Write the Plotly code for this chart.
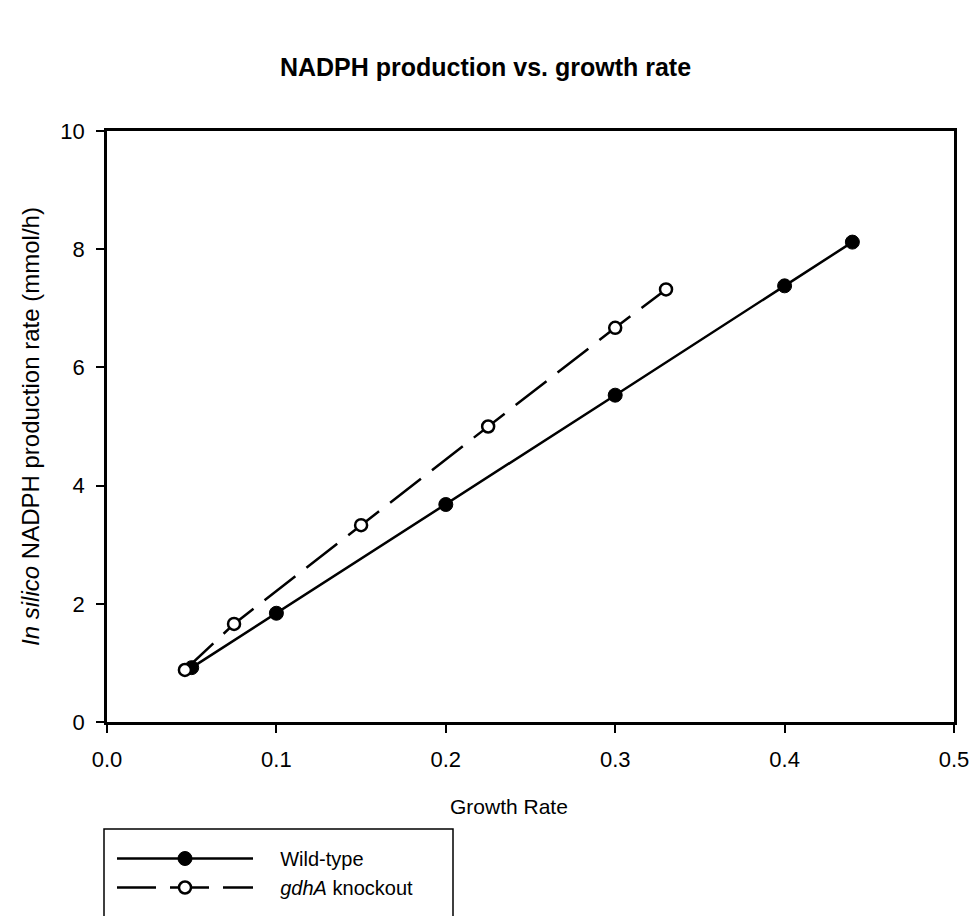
import plotly.graph_objects as go

# Growth rate (1/h) and in silico NADPH production rate (mmol/h)
growth_wt = [0.05, 0.1, 0.2, 0.3, 0.4, 0.44]
nadph_wt = [0.92, 1.84, 3.68, 5.53, 7.38, 8.12]

growth_ko = [0.046, 0.075, 0.15, 0.225, 0.3, 0.33]
nadph_ko = [0.88, 1.66, 3.33, 5.0, 6.67, 7.32]

x_ticks = [0.0, 0.1, 0.2, 0.3, 0.4, 0.5]
x_tick_text = ["0.0", "0.1", "0.2", "0.3", "0.4", "0.5"]
y_ticks = [0, 2, 4, 6, 8, 10]

FONT = "Liberation Sans, Arial, Helvetica, sans-serif"
W, H = 971, 916
L, R, T, B = 107, 17, 131, 194
plot_h = H - T - B

NBSP = "\u00a0"


def py(px):
    """Pixel row -> paper y coordinate."""
    return (H - B - px) / plot_h


def px_(p):
    """Pixel column -> paper x coordinate."""
    return (p - L) / (W - L - R)


fig = go.Figure()

fig.add_trace(go.Scatter(
    x=growth_wt, y=nadph_wt, mode="lines+markers",
    name=NBSP * 4 + "Wild-type",
    line=dict(color="black", width=2.5),
    marker=dict(symbol="circle", size=14, color="black",
                line=dict(color="black", width=1)),
))

fig.add_trace(go.Scatter(
    x=growth_ko, y=nadph_ko, mode="lines+markers",
    name=NBSP * 4 + "<i>gdhA</i> knockout",
    line=dict(color="black", width=2.5, dash="39px,14px"),
    marker=dict(symbol="circle", size=12, color="white",
                line=dict(color="black", width=2.5)),
))

axis_common = dict(
    showline=True, linecolor="black", linewidth=2.5, mirror=True,
    ticks="outside", ticklen=8, tickwidth=2, tickcolor="black",
    showgrid=False, zeroline=False, automargin=False,
    tickfont=dict(family=FONT, size=22, color="black"),
)

fig.update_xaxes(range=[0, 0.5], tickvals=x_ticks, ticktext=x_tick_text,
                 ticklabelstandoff=8, **axis_common)
fig.update_yaxes(range=[0, 10], tickvals=y_ticks, ticklabelstandoff=7,
                 **axis_common,
                 title=dict(text="<i>In silico</i> NADPH production rate (mmol/h)",
                            font=dict(family=FONT, size=24, color="black"),
                            standoff=14))

fig.update_layout(
    width=W, height=H,
    margin=dict(l=L, r=R, t=T, b=B, autoexpand=False),
    paper_bgcolor="white", plot_bgcolor="white",
    title=dict(text="<b>NADPH production vs. growth rate</b>",
               x=0.5, xref="container", xanchor="center",
               y=1 - 67 / H, yanchor="middle",
               font=dict(family=FONT, size=25, color="black")),
    showlegend=True,
    legend=dict(
        x=px_(112), y=py(839), xanchor="left", yanchor="top",
        bgcolor="rgba(0,0,0,0)", borderwidth=0,
        itemwidth=136, tracegroupgap=0,
        font=dict(family=FONT, size=20, color="black"),
    ),
    annotations=[
        dict(text="Growth Rate", x=px_(509), y=py(806), xref="paper",
             yref="paper", showarrow=False, xanchor="center",
             yanchor="middle",
             font=dict(family=FONT, size=21, color="black")),
    ],
    shapes=[
        dict(type="rect", xref="paper", yref="paper",
             x0=px_(104), x1=px_(453), y0=py(829), y1=py(940),
             line=dict(color="black", width=1.5), fillcolor="rgba(0,0,0,0)"),
    ],
)

fig.write_html("out.html")
